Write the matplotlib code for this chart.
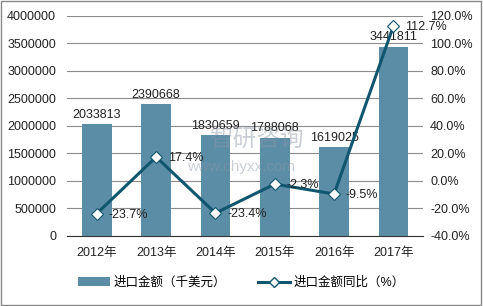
import matplotlib.pyplot as plt
import numpy as np
from matplotlib.lines import Line2D
from matplotlib.patches import Patch

plt.rcParams['font.family'] = ['Liberation Sans', 'Noto Sans CJK SC', 'DejaVu Sans']

years = ["2012年", "2013年", "2014年", "2015年", "2016年", "2017年"]
amount = [2033813, 2390668, 1830659, 1788068, 1619025, 3441811]
growth = [-23.7, 17.4, -23.4, -2.3, -9.5, 112.7]

bar_color = "#5b8ea6"
line_color = "#0f566e"
grid_color = "#8c8c8c"
text_color = "#222222"

fig = plt.figure(figsize=(4.83, 3.06), dpi=100)
ax = fig.add_axes([0.139, 0.229, 0.737, 0.719])
ax2 = ax.twinx()

x = np.arange(len(years))
ax.bar(x, amount, width=0.5, color=bar_color, zorder=2)
ax.set_ylim(0, 4000000)
yt = np.arange(0, 4000001, 500000)
ax.set_yticks(yt)
ax.set_yticklabels([str(int(t)) for t in yt])
ax.set_xlim(-0.5, len(years) - 0.5)
ax.set_xticks(x)
ax.set_xticklabels(years)
ax.grid(axis="y", color=grid_color, lw=0.8, zorder=0)
ax.set_axisbelow(True)

for s in ["top", "right", "left"]:
    ax.spines[s].set_visible(False)
    ax2.spines[s].set_visible(False)
ax2.spines["bottom"].set_visible(False)
ax.spines["bottom"].set_color("#333333")
ax.tick_params(axis="both", length=0, labelsize=9, colors=text_color)
ax.tick_params(axis="x", pad=8)
ax.tick_params(axis="y", pad=8)

for xi, v in zip(x, amount):
    ax.text(xi, v + 60000, str(v), ha="center", va="bottom", fontsize=9,
            color=text_color, zorder=5)

ax2.plot(x, growth, color=line_color, lw=2.2, marker="D", markersize=6.5,
         markerfacecolor="white", markeredgecolor=line_color,
         markeredgewidth=0.8, zorder=4)
ax2.set_ylim(-40, 120)
yt2 = np.arange(-40, 121, 20)
ax2.set_yticks(yt2)
ax2.set_yticklabels(["%.1f%%" % t for t in yt2])
ax2.tick_params(axis="y", length=0, labelsize=9, colors=text_color, pad=5)

for xi, g in zip(x, growth):
    ax2.text(xi + 0.2, g - 1.0, "%.1f%%" % g, ha="left", va="center",
             fontsize=9, color=text_color, zorder=5)

# watermark
fig.text(0.53, 0.54, "智研咨询", fontsize=17, color="#8a96a8", alpha=0.45,
         ha="center", va="center", family=["Noto Sans CJK SC"])
fig.text(0.50, 0.455, "www.chyxx.com", fontsize=11, color="#8a96a8", alpha=0.45,
         ha="center", va="center")

handles = [Patch(facecolor=bar_color),
           Line2D([0], [0], color=line_color, lw=2.2, marker="D", markersize=5.5,
                  markerfacecolor="white", markeredgecolor=line_color)]
fig.legend(handles, ["进口金额（千美元）", "进口金额同比（%）"], loc="center",
           bbox_to_anchor=(0.5, 0.075), ncol=2, frameon=False, fontsize=9,
           handlelength=2.6, columnspacing=2.5, handletextpad=0.3)

fig.patches.append(plt.Rectangle((0.002, 0.004), 0.994, 0.992, transform=fig.transFigure,
                                 fill=False, edgecolor="#888888", lw=1))

fig.savefig("out.png", dpi=100)
